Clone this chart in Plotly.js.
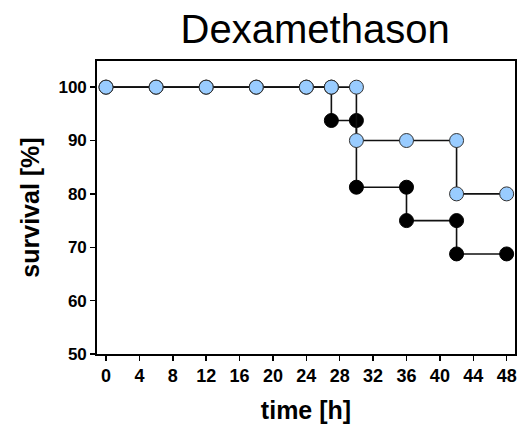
<!DOCTYPE html>
<html>
<head>
<meta charset="utf-8">
<script src="https://cdn.plot.ly/plotly-3.0.1.min.js"></script>
<style>html,body{margin:0;padding:0;background:#fff;}#chart{width:520px;height:431px;}</style>
</head>
<body>
<div id="chart"></div>
<script>
// time points [h] and survival [%]
const blackTime = [0, 6, 12, 18, 24, 27, 27, 30, 30, 36, 36, 42, 42, 48];
const blackSurvival = [100, 100, 100, 100, 100, 100, 93.75, 93.75, 81.25, 81.25, 75, 75, 68.75, 68.75];
const blueTime = [0, 6, 12, 18, 24, 27, 30, 30, 36, 42, 42, 48];
const blueSurvival = [100, 100, 100, 100, 100, 100, 100, 90, 90, 90, 80, 80];
const xTicks = [0, 4, 8, 12, 16, 20, 24, 28, 32, 36, 40, 44, 48];
const yTicks = [50, 60, 70, 80, 90, 100];

const FONT = 'Arial, "Liberation Sans", sans-serif';

const traces = [
  {
    x: blackTime, y: blackSurvival, type: 'scatter', mode: 'lines+markers',
    line: {color: '#111', width: 1.6},
    marker: {size: 14, color: '#000', line: {color: '#000', width: 1}},
    showlegend: false, hoverinfo: 'skip'
  },
  {
    x: blueTime, y: blueSurvival, type: 'scatter', mode: 'lines+markers',
    line: {color: '#111', width: 1.6},
    marker: {size: 14, color: '#99CCFF', line: {color: '#333', width: 1}},
    showlegend: false, hoverinfo: 'skip'
  }
];

const layout = {
  width: 520, height: 431,
  paper_bgcolor: '#fff', plot_bgcolor: '#fff',
  margin: {l: 97, r: 5, t: 61, b: 77, pad: 0},
  font: {family: FONT, color: '#000'},
  title: {
    text: 'Dexamethason',
    font: {family: FONT, size: 40, color: '#000'},
    xref: 'container', yref: 'container',
    x: 0.606, xanchor: 'center',
    y: 0.933, yanchor: 'middle'
  },
  xaxis: {
    range: [-1.08, 49],
    tickvals: xTicks, ticktext: xTicks.map(String),
    ticks: 'outside', ticklen: 5, tickwidth: 1.5, tickcolor: '#000',
    showline: true, linecolor: '#000', linewidth: 1.8, mirror: true,
    showgrid: false, zeroline: false,
    tickfont: {family: FONT, size: 18, weight: 'bold', color: '#000'},
    title: {text: '<b>time [h]</b>', font: {family: FONT, size: 25, color: '#000'}, standoff: 16}
  },
  yaxis: {
    range: [50, 104.9],
    tickvals: yTicks, ticktext: yTicks.map(String),
    ticks: 'outside', ticklen: 5, tickwidth: 1.5, tickcolor: '#000',
    showline: true, linecolor: '#000', linewidth: 1.8, mirror: true,
    showgrid: false, zeroline: false,
    tickfont: {family: FONT, size: 17, weight: 'bold', color: '#000'},
    title: {text: '<b>survival [%]</b>', font: {family: FONT, size: 25, color: '#000'}, standoff: 12}
  }
};

Plotly.newPlot('chart', traces, layout, {staticPlot: true, displayModeBar: false});
</script>
</body>
</html>
